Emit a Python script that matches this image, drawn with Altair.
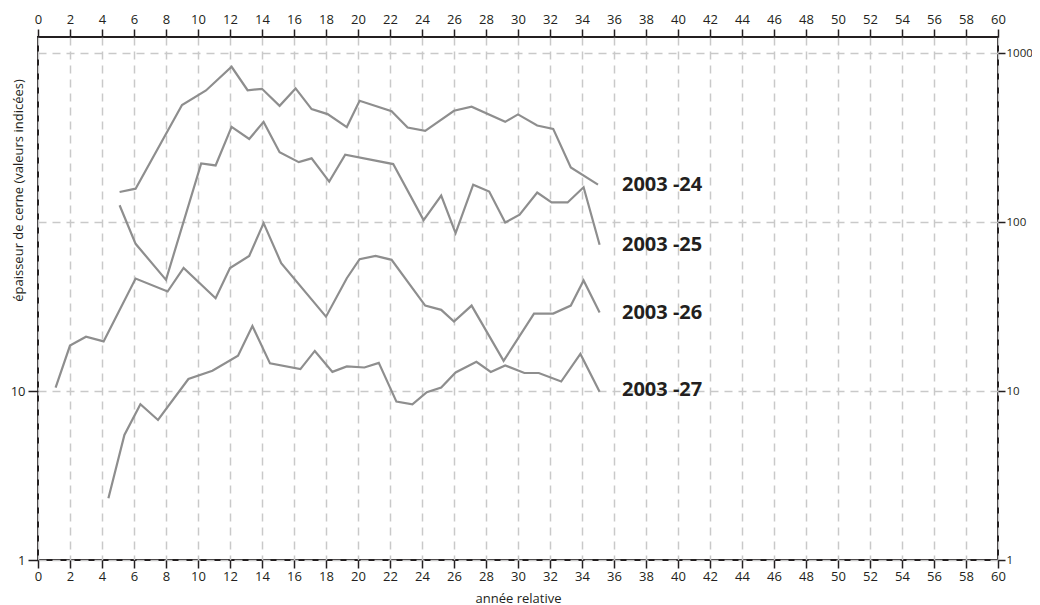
import altair as alt
import pandas as pd

# ---- data ----
s24_x = [5.1, 6.1, 9.0, 10.5, 12.1, 13.1, 14.0, 15.1, 16.1, 17.1, 18.1, 19.3, 20.1, 22.1, 23.1, 24.2, 26.0, 27.1, 29.2, 30.0, 31.2, 32.2, 33.3, 35.0]
s24_y = [151, 158, 494, 603, 833, 605, 617, 489, 620, 468, 437, 366, 524, 455, 364, 348, 457, 483, 393, 435, 374, 357, 211, 167]

s25_x = [5.1, 6.1, 8.0, 10.2, 11.1, 12.1, 13.2, 14.1, 15.1, 16.3, 17.1, 18.2, 19.2, 22.2, 24.1, 25.2, 26.1, 27.2, 28.2, 29.2, 30.1, 31.2, 32.1, 33.1, 34.1, 35.1]
s25_y = [126, 74.5, 45.6, 223, 217, 367, 311, 393, 260, 227, 239, 174, 251, 221, 103, 144, 86.2, 167, 152, 99.6, 111, 150, 131, 131, 161, 73.5]

s26_x = [1.1, 2.0, 3.0, 4.1, 6.1, 8.1, 9.1, 11.1, 12.0, 13.2, 14.1, 15.2, 18.0, 19.3, 20.1, 21.1, 22.1, 24.2, 25.2, 26.0, 27.1, 29.1, 31.0, 32.2, 33.3, 34.1, 35.1]
s26_y = [10.5, 18.6, 21.0, 19.7, 46.4, 38.9, 53.7, 35.5, 53.5, 63.2, 98.8, 57.3, 27.6, 46.6, 60.4, 63.2, 59.9, 32.1, 30.3, 25.8, 32.1, 15.1, 28.8, 28.8, 32.1, 45.2, 29.2]

s27_x = [4.4, 5.4, 6.4, 7.5, 9.4, 10.9, 12.5, 13.4, 14.5, 16.4, 17.3, 18.4, 19.3, 20.4, 21.3, 22.4, 23.4, 24.3, 25.2, 26.1, 27.4, 28.3, 29.2, 30.4, 31.3, 32.7, 33.9, 35.1]
s27_y = [2.32, 5.50, 8.36, 6.75, 11.8, 13.2, 16.2, 24.3, 14.6, 13.5, 17.3, 13.0, 14.0, 13.8, 14.7, 8.67, 8.36, 9.85, 10.5, 12.9, 14.9, 13.0, 14.2, 12.8, 12.8, 11.4, 16.6, 9.93]

series_names = ["2003 -24", "2003 -25", "2003 -26", "2003 -27"]
label_x = [36.5, 36.5, 36.5, 36.5]
label_y = [166.6, 73.5, 29.0, 10.1]

x_ticks = list(range(0, 61, 2))
y_left_ticks = [1, 10]
y_right_ticks = [1, 10, 100, 1000]

# ---- build tables ----
rows = []
for name, xs, ys in zip(series_names, [s24_x, s25_x, s26_x, s27_x], [s24_y, s25_y, s26_y, s27_y]):
    for i, (a, b) in enumerate(zip(xs, ys)):
        rows.append({"series": name, "x": a, "y": b, "i": i})
df = pd.DataFrame(rows)
lab_df = pd.DataFrame({"label": series_names, "lx": label_x, "ly": label_y})

FONT = "Open Sans"
INK = "#231f20"
GRID = "#c9c9c9"

xscale = alt.Scale(domain=[0, 60], nice=False, zero=False)
yscale = alt.Scale(type="log", domain=[1, 1250], nice=False)

common = dict(
    labelFont=FONT, labelColor=INK,
    tickColor=INK, tickWidth=1.5, domain=False,
    titleFont=FONT, titleFontSize=13, titleColor=INK, titleFontWeight="normal",
)

lines = alt.Chart(df).mark_line(color="#8e8e8e", strokeWidth=2.2).encode(
    x=alt.X("x:Q", scale=xscale,
            axis=alt.Axis(orient="bottom", values=x_ticks, title="année relative",
                          tickSize=8, labelPadding=2, labelFontSize=13,
                          titleY=42, titleBaseline="alphabetic",
                          grid=True, gridDash=[8, 6], gridColor=GRID, gridWidth=1.5,
                          labelFlush=False, **common)),
    y=alt.Y("y:Q", scale=yscale,
            axis=alt.Axis(orient="left", values=y_left_ticks, format="d",
                          title="épaisseur de cerne (valeurs indicées)",
                          tickSize=10, labelPadding=3, labelFontSize=13, grid=False,
                          titleX=-16, titleY=153, titleAlign="center",
                          titleBaseline="alphabetic", titleAngle=270,
                          labelFlush=False, **common)),
    detail="series:N",
    order="i:Q",
)

labels = alt.Chart(lab_df).mark_text(
    align="left", baseline="middle", font=FONT, fontSize=20, fontWeight="bold", color=INK
).encode(
    x=alt.X("lx:Q", scale=xscale,
            axis=alt.Axis(orient="top", values=x_ticks, title=None,
                          tickSize=8, labelPadding=3, labelFontSize=13, grid=False,
                          labelFlush=False, **common)),
    y=alt.Y("ly:Q", scale=yscale,
            axis=alt.Axis(orient="right", values=y_right_ticks, format="d", title=None,
                          tickSize=7, labelPadding=1, labelFontSize=11.5,
                          grid=True, gridDash=[8, 6], gridColor=GRID, gridWidth=1.5,
                          labelFlush=False, **common)),
    text="label:N",
)

chart = alt.layer(lines, labels).resolve_axis(
    x="independent", y="independent"
).properties(
    width=960, height=523,
    padding={"left": 30, "top": 29, "right": 34, "bottom": 45},
    autosize=alt.AutoSizeParams(type="none"),
    background="white",
).configure_view(stroke=INK, strokeWidth=2)

chart.save("out.html", embed_options={"renderer": "svg", "actions": False})
